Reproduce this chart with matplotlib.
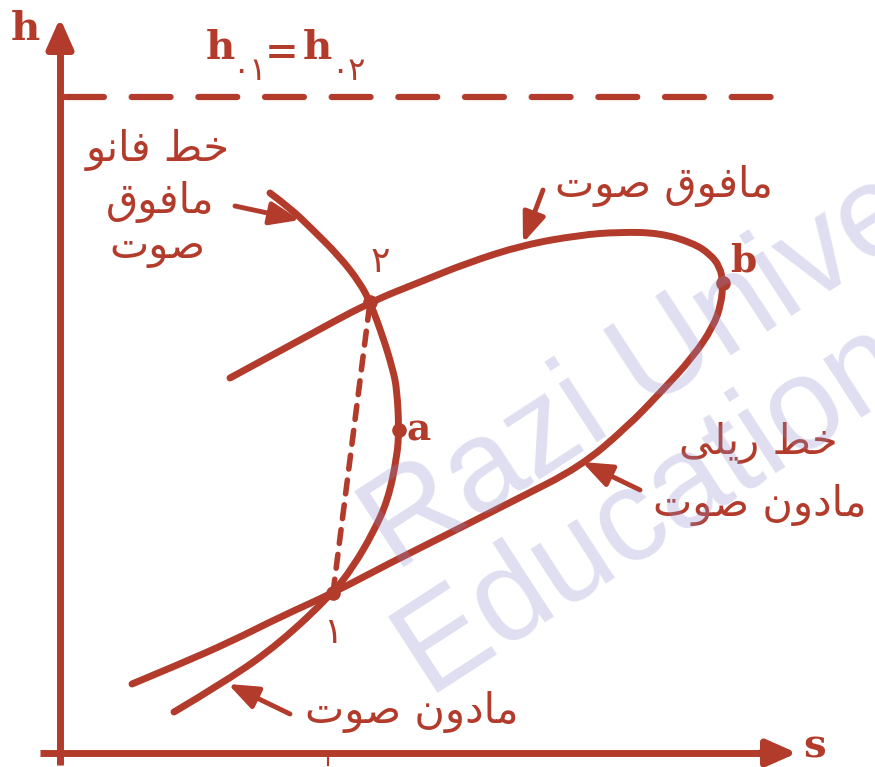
import matplotlib
matplotlib.use('Agg')
import matplotlib.pyplot as plt
from matplotlib.path import Path
from matplotlib.patches import PathPatch

RED = '#b23b2b'

# Fanno line (s, h), top to bottom
fanno_s = [210, 230, 250, 280, 300, 310, 323, 333, 337, 339, 337, 328, 313, 293, 273, 220, 168, 114]
fanno_h = [560, 545, 526, 496, 470, 451, 416, 383, 363, 323, 296, 253, 220, 186, 160, 110, 73, 41]

# Rayleigh line (s, h), lower-left branch round to upper-left end
rayleigh_s = [72, 120, 170, 220, 273, 330, 390, 455, 520, 567, 600, 633, 653, 661, 663,
              660, 650, 633, 600, 560, 520, 463, 407, 360, 310, 240, 170]
rayleigh_h = [69, 89, 111, 136, 160, 190, 220, 253, 286, 326, 360, 396, 426, 448, 470,
              486, 499, 510, 520, 521, 518, 508, 490, 471, 451, 413, 375]

# states
state_names = ['۱', '۲', 'a', 'b']
state_s = [273, 310, 339, 663]
state_h = [160, 451, 323, 470]

h0 = 656  # stagnation enthalpy level

# Persian shaping by hand (matplotlib has no bidi / joining)
FORMS = {
    'ا': ('\uFE8D', '\uFE8E', None, None),
    'ت': ('\uFE95', '\uFE96', '\uFE97', '\uFE98'),
    'خ': ('\uFEA5', '\uFEA6', '\uFEA7', '\uFEA8'),
    'د': ('\uFEA9', '\uFEAA', None, None),
    'ر': ('\uFEAD', '\uFEAE', None, None),
    'ص': ('\uFEB9', '\uFEBA', '\uFEBB', '\uFEBC'),
    'ط': ('\uFEC1', '\uFEC2', '\uFEC3', '\uFEC4'),
    'ف': ('\uFED1', '\uFED2', '\uFED3', '\uFED4'),
    'ق': ('\uFED5', '\uFED6', '\uFED7', '\uFED8'),
    'ل': ('\uFEDD', '\uFEDE', '\uFEDF', '\uFEE0'),
    'م': ('\uFEE1', '\uFEE2', '\uFEE3', '\uFEE4'),
    'ن': ('\uFEE5', '\uFEE6', '\uFEE7', '\uFEE8'),
    'و': ('\uFEED', '\uFEEE', None, None),
    'ی': ('\uFEEF', '\uFEF0', '\uFEF3', '\uFEF4'),
}


def fa(text):
    out = []
    for i, ch in enumerate(text):
        f = FORMS.get(ch)
        if f is None:
            out.append(ch)
            continue
        prev = text[i - 1] if i > 0 else None
        nxt = text[i + 1] if i + 1 < len(text) else None
        jp = prev in FORMS and FORMS[prev][2] is not None
        jn = f[2] is not None and nxt in FORMS
        if jp and jn:
            out.append(f[3])
        elif jp:
            out.append(f[1])
        elif jn:
            out.append(f[2])
        else:
            out.append(f[0])
    return ''.join(reversed(out))


def smooth(xs, ys):
    # quadratic b-spline through the read points, drawn as a matplotlib path
    verts = [(xs[0], ys[0])]
    codes = [Path.MOVETO]
    n = len(xs)
    for i in range(1, n - 1):
        if i == n - 2:
            end = (xs[-1], ys[-1])
        else:
            end = ((xs[i] + xs[i + 1]) / 2, (ys[i] + ys[i + 1]) / 2)
        verts += [(xs[i], ys[i]), end]
        codes += [Path.CURVE3, Path.CURVE3]
    return Path(verts, codes)


fig = plt.figure(figsize=(8.75, 7.67), dpi=100)
ax = fig.add_axes([0, 0, 1, 1])
ax.set_xlim(-60, 815)
ax.set_ylim(-14, 753)
ax.axis('off')

serif = dict(family='DejaVu Serif', weight='bold', color=RED, ha='center', va='center')

# axes with arrows
ax.plot([0, 0], [-12, 720], color=RED, lw=5, solid_capstyle='butt')
ax.plot([-20, 715], [0, 0], color=RED, lw=5, solid_capstyle='butt')
for tip, tail in [((0, 735), (0, 700)), ((737, 0), (700, 0))]:
    ax.annotate('', xy=tip, xytext=tail,
                arrowprops=dict(arrowstyle='-|>,head_length=0.9,head_width=0.4',
                                color=RED, lw=5, mutation_scale=20, shrinkA=0, shrinkB=0))
ax.plot([268, 268], [0, -12], color=RED, lw=1.5)
ax.text(-35, 724, 'h', fontsize=29, **serif)
ax.text(755, -5, 's', fontsize=29, family='DejaVu Serif', weight='bold', color=RED,
        ha='center', va='baseline')

# h01 = h02
plt.rcParams['lines.scale_dashes'] = False
ax.plot([5, 715], [h0, h0], color=RED, lw=4.5, dashes=(28, 20), dash_capstyle='round')
ax.text(160, 705, 'h', fontsize=29, **serif)
ax.text(189, 681, '۰۱', fontsize=23, family='DejaVu Sans', color=RED,
        ha='center', va='center')
ax.text(222, 700, '=', fontsize=29, **serif)
ax.text(257, 705, 'h', fontsize=29, **serif)
ax.text(288, 681, '۰۲', fontsize=23, family='DejaVu Sans', color=RED,
        ha='center', va='center')

# curves
for xs, ys in [(fanno_s, fanno_h), (rayleigh_s, rayleigh_h)]:
    ax.add_patch(PathPatch(smooth(xs, ys), fill=False, edgecolor=RED, lw=5,
                           capstyle='round', joinstyle='round'))
ax.plot([state_s[0], state_s[1]], [state_h[0], state_h[1]], color=RED, lw=4,
        dashes=(10, 8), dash_capstyle='round')
ax.scatter(state_s, state_h, s=90, color=RED, zorder=3)

offsets = [(0, -40), (10, 40), (20, 0), (20, 22)]
for name, x, y, (dx, dy) in zip(state_names, state_s, state_h, offsets):
    if name in '۱۲':
        ax.text(x + dx, y + dy, name, fontsize=26, family='DejaVu Sans', color=RED,
                ha='center', va='center')
    else:
        ax.text(x + dx, y + dy, name, fontsize=27, **serif)

# Persian labels with arrows
labels = [
    ('خط فانو', 98, 603), ('مافوق', 100, 551), ('صوت', 97, 506),
    ('مافوق صوت', 604, 567),
    ('خط ریلی', 698, 310), ('مادون صوت', 700, 248),
    ('مادون صوت', 352, 41),
]
for t, x, y in labels:
    ax.text(x, y, fa(t), fontsize=30, family='DejaVu Sans', color=RED,
            ha='center', va='center')

arrows = [((175, 547), (240, 533)), ((483, 563), (463, 510)),
          ((580, 263), (522, 291)), ((230, 39), (168, 69))]
for tail, tip in arrows:
    ax.annotate('', xy=tip, xytext=tail,
                arrowprops=dict(arrowstyle='-|>,head_length=0.9,head_width=0.35',
                                color=RED, lw=3.5, mutation_scale=20, shrinkA=0, shrinkB=0))

# watermark
for t, x, y in [('Razi University', 335, 180), ('Educational', 367, 60)]:
    ax.text(x, y, t, fontsize=94, family='Liberation Sans', color=(0.55, 0.55, 0.8), alpha=0.28,
            rotation=33, rotation_mode='anchor', ha='left', va='baseline', zorder=5)

fig.savefig('out.png', dpi=100, facecolor='white')
